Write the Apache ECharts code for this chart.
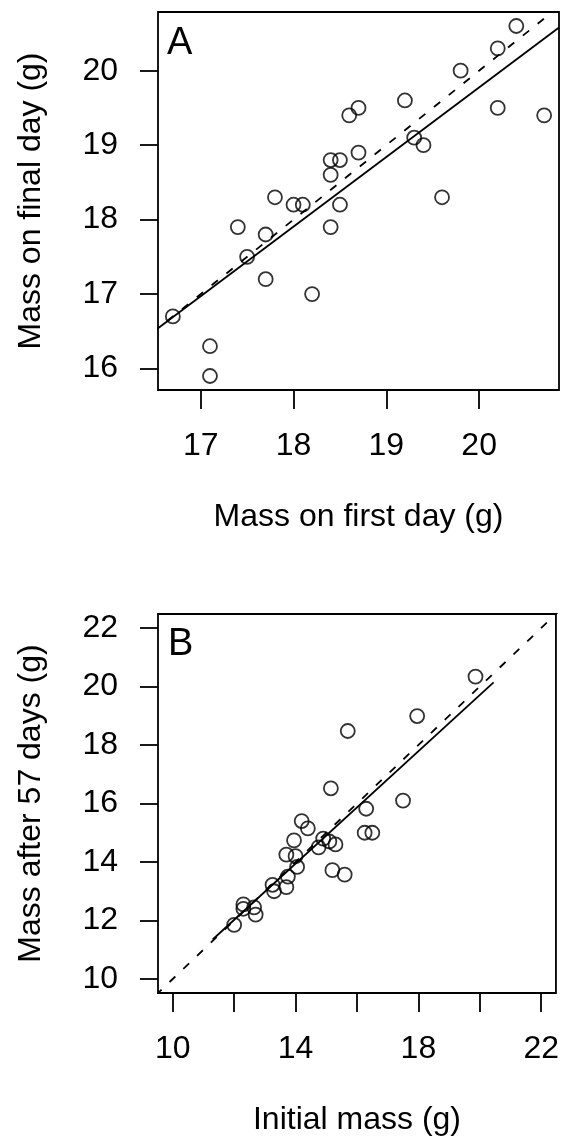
<!DOCTYPE html>
<html>
<head>
<meta charset="utf-8">
<script src="https://cdn.jsdelivr.net/npm/echarts@6/dist/echarts.min.js"></script>
<style>
html,body{margin:0;padding:0;background:#fff;}
#c{width:562px;height:1145px;}
</style>
</head>
<body>
<div id="c"></div>
<script>
// Panel A: mass on first day (x) vs mass on final day (y)
const aFirstDay = [16.7,17.1,17.1,17.4,17.5,17.7,17.7,17.8,18.0,18.1,18.2,18.4,18.4,18.4,18.5,18.5,18.6,18.7,18.7,19.2,19.3,19.4,19.6,19.8,20.2,20.2,20.4,20.7];
const aFinalDay = [16.7,16.3,15.9,17.9,17.5,17.8,17.2,18.3,18.2,18.2,17.0,18.8,18.6,17.9,18.8,18.2,19.4,19.5,18.9,19.6,19.1,19.0,18.3,20.0,20.3,19.5,20.6,19.4];
const aFitLine = [[16.54,16.54],[20.86,20.58]];
const aOneToOne = [[16.0,16.0],[21.0,21.0]];
const aXTicks = [17,18,19,20];
const aYTicks = [16,17,18,19,20];

// Panel B: initial mass (x) vs mass after 57 days (y)
const bInitial = [12.0,12.3,12.3,12.65,12.7,13.25,13.3,13.7,13.75,13.7,14.0,14.05,13.95,14.2,14.4,14.75,14.9,15.1,15.3,15.2,15.6,15.15,15.7,16.25,16.5,16.3,17.5,17.96,19.86];
const bAfter57 = [11.85,12.55,12.4,12.45,12.2,13.22,13.0,13.14,13.5,14.25,14.2,13.83,14.74,15.4,15.15,14.5,14.8,14.7,14.6,13.72,13.57,16.52,18.48,15.0,15.0,15.82,16.1,18.99,20.34];
const bFitLine = [[11.3,11.35],[20.45,20.14]];
const bOneToOne = [[9.0,9.0],[23.0,23.0]];
const bXTicks = [10,12,14,16,18,20,22];
const bXLabels = [10,14,18,22];
const bYTicks = [10,12,14,16,18,20,22];

const FONT = 'Liberation Sans, Arial, sans-serif';
const zip = (xs, ys) => xs.map((x, i) => [x, ys[i]]);

function xAxis(gi, min, max, ticks, labels, name) {
  return {
    gridIndex: gi, type: 'value', min: min, max: max,
    name: name, nameLocation: 'middle', nameGap: 111,
    nameTextStyle: {fontFamily: FONT, fontSize: 32, color: '#000', lineHeight: 32},
    axisLine: {show: false},
    splitLine: {show: false},
    axisTick: {show: true, inside: false, length: 19, customValues: ticks,
               lineStyle: {color: '#000', width: 1.8}},
    axisLabel: {show: true, margin: 40, customValues: labels,
                fontFamily: FONT, fontSize: 32, color: '#000', lineHeight: 32}
  };
}
function yAxis(gi, min, max, ticks, labels, name) {
  return {
    gridIndex: gi, type: 'value', min: min, max: max,
    name: name, nameLocation: 'middle', nameGap: 111,
    nameTextStyle: {fontFamily: FONT, fontSize: 32, color: '#000', lineHeight: 32},
    axisLine: {show: false},
    splitLine: {show: false},
    axisTick: {show: true, inside: false, length: 18, customValues: ticks,
               lineStyle: {color: '#000', width: 1.8}},
    axisLabel: {show: true, margin: 40, customValues: labels,
                fontFamily: FONT, fontSize: 32, color: '#000', lineHeight: 32}
  };
}
function pts(xi, data) {
  return {type: 'scatter', xAxisIndex: xi, yAxisIndex: xi, data: data,
    symbol: 'circle', symbolSize: 14, silent: true,
    itemStyle: {color: 'rgba(0,0,0,0)', borderColor: '#000', borderWidth: 1.8}};
}
function line(xi, data, dashed) {
  return {type: 'line', xAxisIndex: xi, yAxisIndex: xi, data: data,
    symbol: 'none', silent: true, clip: true,
    lineStyle: {color: '#000', width: 1.8, type: dashed ? [8, 11] : 'solid'}};
}

const chart = echarts.init(document.getElementById('c'), null, {renderer: 'canvas'});
chart.setOption({
  animation: false,
  backgroundColor: '#fff',
  title: [
    {text: 'A', left: 167, top: 25, padding: 0,
     textStyle: {fontFamily: FONT, fontSize: 38, fontWeight: 'normal', color: '#000', lineHeight: 38}},
    {text: 'B', left: 168, top: 626, padding: 0,
     textStyle: {fontFamily: FONT, fontSize: 38, fontWeight: 'normal', color: '#000', lineHeight: 38}}
  ],
  grid: [
    {left: 158, top: 12, width: 401, height: 378, show: true, borderColor: '#000', borderWidth: 1.8, backgroundColor: 'transparent', containLabel: false},
    {left: 158, top: 614, width: 401, height: 379, show: true, borderColor: '#000', borderWidth: 1.8, backgroundColor: 'transparent', containLabel: false}
  ],
  xAxis: [
    xAxis(0, 16.54, 20.86, aXTicks, aXTicks, 'Mass on first day (g)'),
    xAxis(1, 9.52, 22.48, bXTicks, bXLabels, 'Initial mass (g)')
  ],
  yAxis: [
    yAxis(0, 15.712, 20.788, aYTicks, aYTicks, 'Mass on final day (g)'),
    yAxis(1, 9.52, 22.48, bYTicks, bYTicks, 'Mass after 57 days (g)')
  ],
  series: [
    pts(0, zip(aFirstDay, aFinalDay)),
    line(0, aOneToOne, true),
    line(0, aFitLine, false),
    pts(1, zip(bInitial, bAfter57)),
    line(1, bOneToOne, true),
    line(1, bFitLine, false)
  ]
});
</script>
</body>
</html>
